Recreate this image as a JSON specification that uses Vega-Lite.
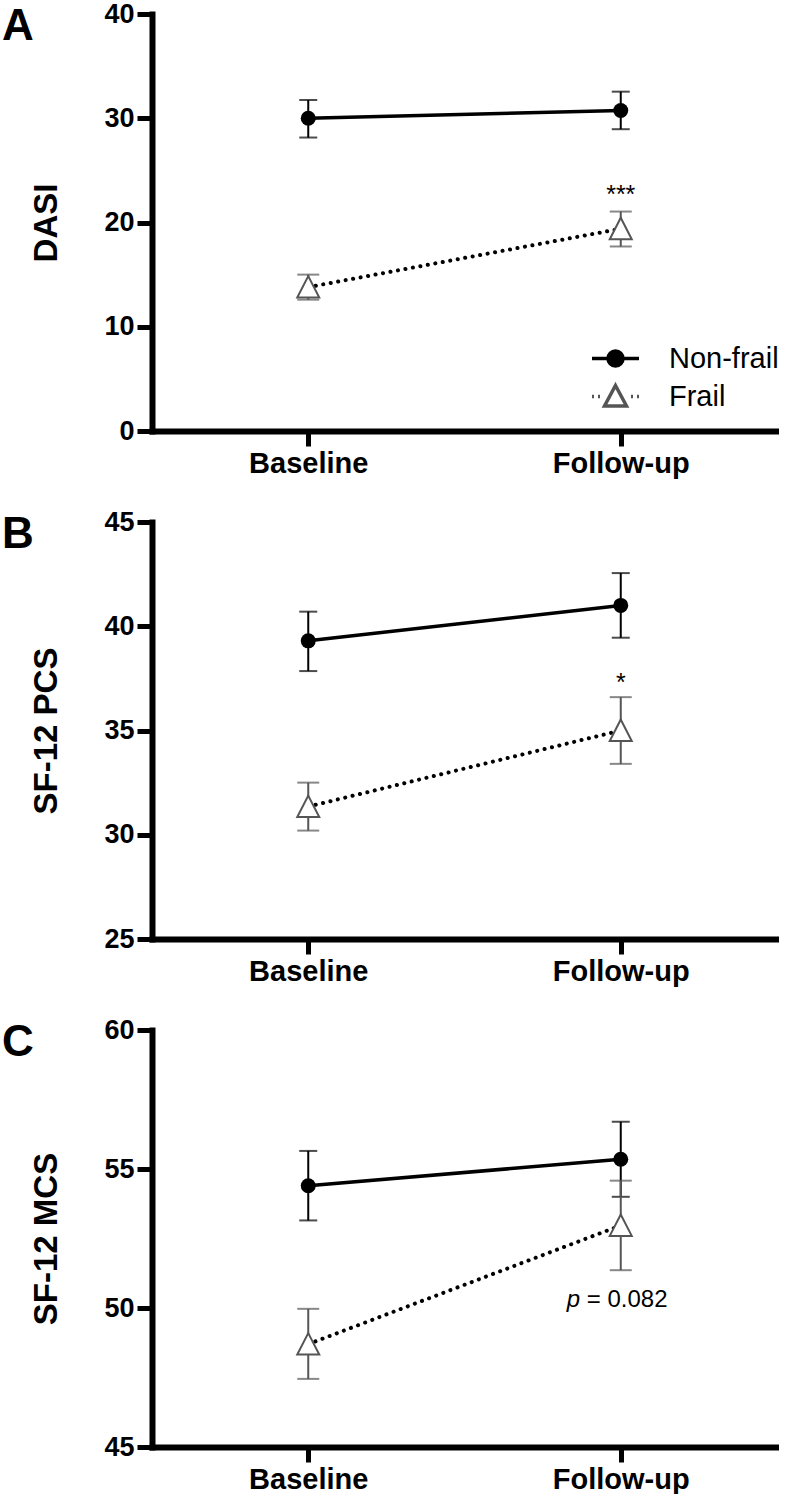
{
  "$schema": "https://vega.github.io/schema/vega-lite/v6.json",
  "padding": {"left": 2, "top": 0, "right": 0, "bottom": 0},
  "background": "white",
  "datasets": {
    "stats": [
      {"panel": "A", "group": "Non-frail", "time": "Baseline", "mean": 30.0, "lower": 28.15, "upper": 31.75},
      {"panel": "A", "group": "Non-frail", "time": "Follow-up", "mean": 30.75, "lower": 28.95, "upper": 32.55},
      {"panel": "A", "group": "Frail", "time": "Baseline", "mean": 13.8, "lower": 12.6, "upper": 15.0},
      {"panel": "A", "group": "Frail", "time": "Follow-up", "mean": 19.4, "lower": 17.7, "upper": 21.05, "sig": "***"},
      {"panel": "B", "group": "Non-frail", "time": "Baseline", "mean": 39.3, "lower": 37.85, "upper": 40.7},
      {"panel": "B", "group": "Non-frail", "time": "Follow-up", "mean": 41.0, "lower": 39.45, "upper": 42.55},
      {"panel": "B", "group": "Frail", "time": "Baseline", "mean": 31.35, "lower": 30.2, "upper": 32.5},
      {"panel": "B", "group": "Frail", "time": "Follow-up", "mean": 35.0, "lower": 33.4, "upper": 36.6, "sig": "*"},
      {"panel": "C", "group": "Non-frail", "time": "Baseline", "mean": 54.4, "lower": 53.15, "upper": 55.65},
      {"panel": "C", "group": "Non-frail", "time": "Follow-up", "mean": 55.35, "lower": 54.0, "upper": 56.7},
      {"panel": "C", "group": "Frail", "time": "Baseline", "mean": 48.7, "lower": 47.45, "upper": 49.97},
      {"panel": "C", "group": "Frail", "time": "Follow-up", "mean": 52.97, "lower": 51.36, "upper": 54.58, "sig": "= 0.082", "sigVar": "p"}
    ]
  },
  "data": {"name": "stats"},
  "config": {
    "view": {"stroke": null},
    "axis": {
      "domainColor": "black", "domainWidth": 6, "domainCap": "square",
      "tickColor": "black", "tickWidth": 5, "tickSize": 15,
      "labelColor": "black", "labelFont": "Liberation Sans", "labelFontWeight": "bold",
      "titleColor": "black", "titleFont": "Liberation Sans", "titleFontWeight": "bold",
      "grid": false
    },
    "axisY": {"labelFontSize": 27, "labelPadding": 3, "titleFontSize": 33, "titlePadding": 40},
    "axisX": {"labelFontSize": 29, "labelPadding": 3, "labelAngle": 0}
  },
  "vconcat": [
    {
      "title": {"text": "A", "anchor": "start", "frame": "group", "dx": -150, "dy": 49, "offset": 0, "fontSize": 44, "font": "Liberation Sans", "fontWeight": "bold", "color": "black"},
      "width": 625, "height": 417,
      "transform": [{"filter": "datum.panel == 'A'"}],
      "encoding": {
        "x": {"field": "time", "type": "ordinal", "sort": null, "title": null, "scale": {"type": "point", "padding": 0.5, "domain": ["Baseline", "Follow-up"]}},
        "y": {"field": "mean", "type": "quantitative", "title": "DASI", "scale": {"domain": [0, 40], "nice": false, "zero": false}, "axis": {"values": [0, 10, 20, 30, 40]}}
      },
      "layer": [
        {"transform": [{"filter": "datum.group == 'Non-frail'"}], "mark": {"type": "line", "color": "black", "strokeWidth": 3.5}},
        {"transform": [{"filter": "datum.group == 'Frail'"}], "mark": {"type": "line", "color": "black", "strokeWidth": 4, "strokeDash": [0.1, 7.5], "strokeCap": "round"}},
        {"transform": [{"filter": "datum.group == 'Non-frail'"}],
         "mark": {"type": "errorbar", "color": "black", "ticks": {"size": 18, "thickness": 2, "color": "black"}, "rule": {"strokeWidth": 2, "color": "black"}},
         "encoding": {"y": {"field": "lower", "type": "quantitative", "title": "DASI", "scale": {"domain": [0, 40], "nice": false, "zero": false}}, "y2": {"field": "upper"}}},
        {"transform": [{"filter": "datum.group == 'Frail'"}],
         "mark": {"type": "errorbar", "color": "#555555", "ticks": {"size": 22, "thickness": 2, "color": "#555555"}, "rule": {"strokeWidth": 2, "color": "#555555"}},
         "encoding": {"y": {"field": "lower", "type": "quantitative", "title": "DASI", "scale": {"domain": [0, 40], "nice": false, "zero": false}}, "y2": {"field": "upper"}}},
        {"transform": [{"filter": "datum.group == 'Non-frail'"}], "mark": {"type": "point", "shape": "circle", "filled": true, "color": "black", "size": 225, "opacity": 1}},
        {"transform": [{"filter": "datum.group == 'Frail'"}], "mark": {"type": "point", "shape": "M0,-1L1,0.95L-1,0.95Z", "filled": true, "fill": "white", "stroke": "#555555", "strokeWidth": 2, "size": 484, "opacity": 1}},
        {"transform": [{"filter": "datum.sig"}], "mark": {"type": "text", "font": "Liberation Sans", "fontSize": 25, "dy": -17, "baseline": "middle", "color": "black"},
         "encoding": {"y": {"field": "upper", "type": "quantitative", "title": "DASI"}, "text": {"field": "sig"}}},
        {"mark": {"type": "point", "opacity": 0, "filled": true, "strokeWidth": 3},
         "encoding": {
           "shape": {"field": "group", "type": "nominal", "scale": {"domain": ["Non-frail", "Frail"], "range": ["M-2.35,0L2.35,0M-0.75,0A0.75,0.75,0,1,0,0.75,0A0.75,0.75,0,1,0,-0.75,0Z", "M-2.35,0L-2.15,0M-1.75,0L-1.55,0M1.55,0L1.75,0M2.15,0L2.35,0M0,-1.1L1.1,0.95L-1.1,0.95Z"]},
             "legend": {"title": null, "orient": "none", "legendX": 449, "legendY": 330, "symbolSize": 400, "symbolOpacity": 1, "symbolStrokeWidth": 3.5, "labelOffset": 39, "labelFontSize": 29, "labelFont": "Liberation Sans", "labelColor": "black", "rowPadding": 4, "padding": 0, "labelLimit": 300}},
           "fill": {"field": "group", "type": "nominal", "scale": {"domain": ["Non-frail", "Frail"], "range": ["black", "white"]},
             "legend": {"title": null, "orient": "none", "legendX": 449, "legendY": 330, "symbolSize": 400, "symbolOpacity": 1, "symbolStrokeWidth": 3.5, "labelOffset": 39, "labelFontSize": 29, "labelFont": "Liberation Sans", "labelColor": "black", "rowPadding": 4, "padding": 0, "labelLimit": 300}},
           "stroke": {"field": "group", "type": "nominal", "scale": {"domain": ["Non-frail", "Frail"], "range": ["black", "#555555"]},
             "legend": {"title": null, "orient": "none", "legendX": 449, "legendY": 330, "symbolSize": 400, "symbolOpacity": 1, "symbolStrokeWidth": 3.5, "labelOffset": 39, "labelFontSize": 29, "labelFont": "Liberation Sans", "labelColor": "black", "rowPadding": 4, "padding": 0, "labelLimit": 300}}
         }}
      ]
    },
    {
      "title": {"text": "B", "anchor": "start", "frame": "group", "dx": -150, "dy": 49, "offset": 0, "fontSize": 44, "font": "Liberation Sans", "fontWeight": "bold", "color": "black"},
      "width": 625, "height": 417,
      "transform": [{"filter": "datum.panel == 'B'"}],
      "encoding": {
        "x": {"field": "time", "type": "ordinal", "sort": null, "title": null, "scale": {"type": "point", "padding": 0.5, "domain": ["Baseline", "Follow-up"]}},
        "y": {"field": "mean", "type": "quantitative", "title": "SF-12 PCS", "scale": {"domain": [25, 45], "nice": false, "zero": false}, "axis": {"values": [25, 30, 35, 40, 45]}}
      },
      "layer": [
        {"transform": [{"filter": "datum.group == 'Non-frail'"}], "mark": {"type": "line", "color": "black", "strokeWidth": 3.5}},
        {"transform": [{"filter": "datum.group == 'Frail'"}], "mark": {"type": "line", "color": "black", "strokeWidth": 4, "strokeDash": [0.1, 7.5], "strokeCap": "round"}},
        {"transform": [{"filter": "datum.group == 'Non-frail'"}],
         "mark": {"type": "errorbar", "color": "black", "ticks": {"size": 18, "thickness": 2, "color": "black"}, "rule": {"strokeWidth": 2, "color": "black"}},
         "encoding": {"y": {"field": "lower", "type": "quantitative", "title": "SF-12 PCS", "scale": {"domain": [25, 45], "nice": false, "zero": false}}, "y2": {"field": "upper"}}},
        {"transform": [{"filter": "datum.group == 'Frail'"}],
         "mark": {"type": "errorbar", "color": "#555555", "ticks": {"size": 22, "thickness": 2, "color": "#555555"}, "rule": {"strokeWidth": 2, "color": "#555555"}},
         "encoding": {"y": {"field": "lower", "type": "quantitative", "title": "SF-12 PCS", "scale": {"domain": [25, 45], "nice": false, "zero": false}}, "y2": {"field": "upper"}}},
        {"transform": [{"filter": "datum.group == 'Non-frail'"}], "mark": {"type": "point", "shape": "circle", "filled": true, "color": "black", "size": 225, "opacity": 1}},
        {"transform": [{"filter": "datum.group == 'Frail'"}], "mark": {"type": "point", "shape": "M0,-1L1,0.95L-1,0.95Z", "filled": true, "fill": "white", "stroke": "#555555", "strokeWidth": 2, "size": 484, "opacity": 1}},
        {"transform": [{"filter": "datum.sig"}], "mark": {"type": "text", "font": "Liberation Sans", "fontSize": 25, "dy": -14, "baseline": "middle", "color": "black"},
         "encoding": {"y": {"field": "upper", "type": "quantitative", "title": "SF-12 PCS"}, "text": {"field": "sig"}}}
      ]
    },
    {
      "title": {"text": "C", "anchor": "start", "frame": "group", "dx": -150, "dy": 49, "offset": 0, "fontSize": 44, "font": "Liberation Sans", "fontWeight": "bold", "color": "black"},
      "width": 625, "height": 417,
      "transform": [{"filter": "datum.panel == 'C'"}],
      "encoding": {
        "x": {"field": "time", "type": "ordinal", "sort": null, "title": null, "scale": {"type": "point", "padding": 0.5, "domain": ["Baseline", "Follow-up"]}},
        "y": {"field": "mean", "type": "quantitative", "title": "SF-12 MCS", "scale": {"domain": [45, 60], "nice": false, "zero": false}, "axis": {"values": [45, 50, 55, 60]}}
      },
      "layer": [
        {"transform": [{"filter": "datum.group == 'Non-frail'"}], "mark": {"type": "line", "color": "black", "strokeWidth": 3.5}},
        {"transform": [{"filter": "datum.group == 'Frail'"}], "mark": {"type": "line", "color": "black", "strokeWidth": 4, "strokeDash": [0.1, 7.5], "strokeCap": "round"}},
        {"transform": [{"filter": "datum.group == 'Non-frail'"}],
         "mark": {"type": "errorbar", "color": "black", "ticks": {"size": 18, "thickness": 2, "color": "black"}, "rule": {"strokeWidth": 2, "color": "black"}},
         "encoding": {"y": {"field": "lower", "type": "quantitative", "title": "SF-12 MCS", "scale": {"domain": [45, 60], "nice": false, "zero": false}}, "y2": {"field": "upper"}}},
        {"transform": [{"filter": "datum.group == 'Frail'"}],
         "mark": {"type": "errorbar", "color": "#555555", "ticks": {"size": 22, "thickness": 2, "color": "#555555"}, "rule": {"strokeWidth": 2, "color": "#555555"}},
         "encoding": {"y": {"field": "lower", "type": "quantitative", "title": "SF-12 MCS", "scale": {"domain": [45, 60], "nice": false, "zero": false}}, "y2": {"field": "upper"}}},
        {"transform": [{"filter": "datum.group == 'Non-frail'"}], "mark": {"type": "point", "shape": "circle", "filled": true, "color": "black", "size": 225, "opacity": 1}},
        {"transform": [{"filter": "datum.group == 'Frail'"}], "mark": {"type": "point", "shape": "M0,-1L1,0.95L-1,0.95Z", "filled": true, "fill": "white", "stroke": "#555555", "strokeWidth": 2, "size": 484, "opacity": 1}},
        {"transform": [{"filter": "datum.sig"}], "mark": {"type": "text", "font": "Liberation Sans", "fontSize": 24, "dx": -54, "dy": 30, "align": "left", "baseline": "middle", "color": "black", "fontStyle": "italic"},
         "encoding": {"y": {"field": "lower", "type": "quantitative", "title": "SF-12 MCS"}, "text": {"field": "sigVar"}}},
        {"transform": [{"filter": "datum.sig"}], "mark": {"type": "text", "font": "Liberation Sans", "fontSize": 24, "dx": -34, "dy": 30, "align": "left", "baseline": "middle", "color": "black"},
         "encoding": {"y": {"field": "lower", "type": "quantitative", "title": "SF-12 MCS"}, "text": {"field": "sig"}}}
      ]
    }
  ],
  "spacing": 91,
  "bounds": "flush"
}
